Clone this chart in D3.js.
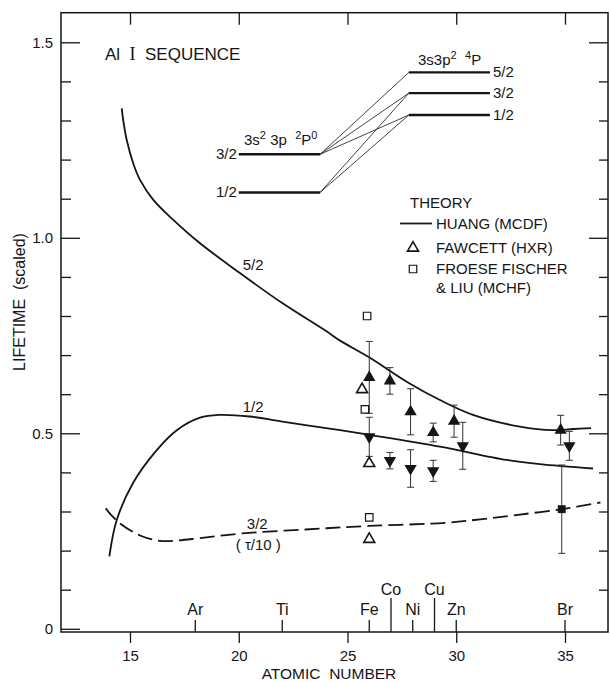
<!DOCTYPE html>
<html><head><meta charset="utf-8">
<script src="https://cdn.jsdelivr.net/npm/d3@7"></script>
<style>
body{margin:0;background:#fff}
text{font-family:"Liberation Sans",Arial,Helvetica,sans-serif;fill:#151515}
</style></head>
<body><svg id="chart" width="610" height="682"></svg>
<script>
// ---------------- data ----------------
const xTickValues = [15, 20, 25, 30, 35];
const yMajorTicks = [0, 0.5, 1.0, 1.5];
const yMinorTicks = [0.1,0.2,0.3,0.4,0.6,0.7,0.8,0.9,1.1,1.2,1.3,1.4];
const elementNames = ["Ar","Ti","Fe","Co","Ni","Cu","Zn","Br"];
const elementZ     = [18, 22, 26, 27, 28, 29, 30, 35];
const tallElements = ["Co","Cu"];

// Huang (MCDF) theory curves: [Z, lifetime]
const huang52 = [[14.62,1.331],[14.69,1.30],[14.85,1.25],[15.15,1.19],[15.46,1.148],[16.07,1.097],[16.99,1.046],[18.22,0.986],[20,0.912],[22,0.833],[24,0.762],[24.66,0.737],[26.03,0.693],[27.72,0.632],[29.25,0.585],[30.77,0.547],[32.93,0.517],[34.45,0.508],[35.37,0.511],[36.2,0.513]];
const huang12 = [[14.05,0.185],[14.39,0.278],[15.14,0.373],[16.23,0.457],[17.15,0.508],[18.22,0.540],[19.1,0.547],[20.5,0.543],[22,0.530],[24.66,0.508],[26.03,0.496],[29.25,0.466],[32.3,0.432],[33.85,0.421],[36.29,0.41]];
const huang32 = [[13.88,0.308],[14.44,0.274],[15.49,0.238],[16.4,0.225],[17.2,0.226],[18.22,0.232],[20.17,0.244],[23.07,0.254],[25.97,0.263],[29.53,0.271],[31.1,0.28],[32.75,0.291],[34.85,0.306],[36.63,0.323]];

// measurements: [Z, lifetime, error]
const meas52 = [[26,0.643,0.092],[26.95,0.634,0.034],[27.9,0.555,0.059],[28.94,0.502,0.024],[29.9,0.531,0.041],[34.8,0.508,0.038]];
const meas12 = [[26,0.491,0.050],[26.95,0.430,0.021],[27.9,0.410,0.048],[28.94,0.404,0.027],[30.3,0.468,0.06],[35.2,0.468,0.037]];
const meas32 = [[34.85,0.306,0.113]];

// other theory points: [Z, lifetime]
const fawcett = [[25.67,0.612],[26,0.423],[26,0.229]];
const froese  = [[25.9,0.80],[25.8,0.561],[26,0.285]];

// energy level inset (in axis units)
const lowerLevels = [{j:"3/2",v:1.2136},{j:"1/2",v:1.116}];
const upperLevels = [{j:"5/2",v:1.423},{j:"3/2",v:1.370},{j:"1/2",v:1.314}];
const lowerSpan = [20.0, 23.74];
const upperSpan = [27.82, 31.55];
const transitions = [["3/2","5/2"],["3/2","3/2"],["3/2","1/2"],["1/2","3/2"],["1/2","1/2"]];

// ---------------- layout ----------------
const svg = d3.select("#chart");
const L = 61, R = 608, T = 12.7, B = 632;
const x = d3.scaleLinear().domain([15, 35]).range([130, 565]);
const y = d3.scaleLinear().domain([0, 1.5]).range([628.8, 42.3]);
const ink = "#151515";

// frame
svg.append("rect").attr("x",L).attr("y",T).attr("width",R-L).attr("height",B-T)
  .attr("fill","none").attr("stroke",ink).attr("stroke-width",1.5);

function styleAxis(g){ g.select(".domain").remove(); g.selectAll("line").attr("stroke",ink).attr("stroke-width",1.3); }

// left axis
svg.append("g").attr("transform",`translate(${L},0)`)
  .call(d3.axisLeft(y).tickValues(yMinorTicks).tickSize(-10).tickFormat(""))
  .call(styleAxis);
svg.append("g").attr("transform",`translate(${L},0)`)
  .call(d3.axisLeft(y).tickValues(yMajorTicks).tickSize(-19).tickPadding(7)
    .tickFormat(d => d===0 ? "0" : d3.format(".1f")(d)))
  .call(styleAxis)
  .call(g => g.selectAll("text").attr("x",-8).attr("font-size",15).attr("fill",ink).style("font-family","'Liberation Sans',Arial,sans-serif"));
// right axis
svg.append("g").attr("transform",`translate(${R},0)`)
  .call(d3.axisRight(y).tickValues(yMinorTicks).tickSize(-9).tickFormat(""))
  .call(styleAxis);
svg.append("g").attr("transform",`translate(${R},0)`)
  .call(d3.axisRight(y).tickValues(yMajorTicks.filter(d=>d>0)).tickSize(-19).tickFormat(""))
  .call(styleAxis);
// top axis
svg.append("g").attr("transform",`translate(0,${T})`)
  .call(d3.axisTop(x).tickValues(xTickValues).tickSize(-12).tickFormat(""))
  .call(styleAxis);
// bottom axis
svg.append("g").attr("transform",`translate(0,${B})`)
  .call(d3.axisBottom(x).tickValues(xTickValues).tickSize(11).tickPadding(7))
  .call(styleAxis)
  .call(g => g.selectAll("text").attr("font-size",15).attr("fill",ink).style("font-family","'Liberation Sans',Arial,sans-serif"));

// element markers on bottom axis
const el = svg.append("g");
elementNames.forEach((n,i) => {
  const tall = tallElements.includes(n);
  const xx = x(elementZ[i]);
  el.append("line").attr("x1",xx).attr("x2",xx).attr("y1",B).attr("y2",tall? B-34 : B-12)
    .attr("stroke",ink).attr("stroke-width",1.3);
  el.append("text").attr("x",xx).attr("y",tall? B-37 : B-17).attr("text-anchor","middle")
    .attr("font-size",16).text(n);
});

// axis titles
svg.append("text").attr("x",329).attr("y",679).attr("text-anchor","middle")
  .attr("font-size",15.5).style("white-space","pre").text("ATOMIC  NUMBER");
svg.append("text").attr("transform","translate(25,302) rotate(-90)").attr("text-anchor","middle")
  .attr("font-size",16).style("white-space","pre").text("LIFETIME  (scaled)");

// title
const tt = svg.append("text").attr("x",105).attr("y",60).attr("font-size",17).style("white-space","pre");
tt.append("tspan").text("Al  ");
tt.append("tspan").style("font-family","'Liberation Serif','Times New Roman',serif").attr("font-size",18).text("I");
tt.append("tspan").text("  SEQUENCE");

// theory curves
const line = d3.line().x(d=>x(d[0])).y(d=>y(d[1])).curve(d3.curveCatmullRom.alpha(0.5));
svg.append("path").datum(huang52).attr("d",line).attr("fill","none").attr("stroke",ink).attr("stroke-width",1.8);
svg.append("path").datum(huang12).attr("d",line).attr("fill","none").attr("stroke",ink).attr("stroke-width",1.8);
svg.append("path").datum(huang32).attr("d",line).attr("fill","none").attr("stroke",ink).attr("stroke-width",1.8)
  .attr("stroke-dasharray","15,6");

// curve labels
svg.append("text").attr("x",x(20.66)).attr("y",y(0.93)+5).attr("text-anchor","middle").attr("font-size",15).text("5/2");
svg.append("text").attr("x",x(20.66)).attr("y",y(0.567)+5).attr("text-anchor","middle").attr("font-size",15).text("1/2");
svg.append("text").attr("x",x(20.85)).attr("y",y(0.269)+5).attr("text-anchor","middle").attr("font-size",15).text("3/2");
svg.append("text").attr("x",x(20.9)).attr("y",y(0.214)+5).attr("text-anchor","middle").attr("font-size",15).style("white-space","pre").text("( τ/10 )");

// error bars
function errorBars(data){
  const g = svg.append("g").attr("stroke","#333").attr("stroke-width",1);
  data.forEach(d=>{
    const xx=x(d[0]);
    g.append("line").attr("x1",xx).attr("x2",xx).attr("y1",y(d[1]-d[2])).attr("y2",y(d[1]+d[2]));
    [d[1]-d[2], d[1]+d[2]].forEach(v=>g.append("line").attr("x1",xx-3.5).attr("x2",xx+3.5).attr("y1",y(v)).attr("y2",y(v)));
  });
}
errorBars(meas52); errorBars(meas12); errorBars(meas32);

const tri = d3.symbol().type(d3.symbolTriangle).size(66);
const sq  = d3.symbol().type(d3.symbolSquare).size(62);
svg.append("g").selectAll("path").data(meas52).join("path")
  .attr("d",tri).attr("transform",d=>`translate(${x(d[0])},${y(d[1])})`).attr("fill",ink);
svg.append("g").selectAll("path").data(meas12).join("path")
  .attr("d",tri).attr("transform",d=>`translate(${x(d[0])},${y(d[1])}) rotate(180)`).attr("fill",ink);
svg.append("g").selectAll("path").data(meas32).join("path")
  .attr("d",sq).attr("transform",d=>`translate(${x(d[0])},${y(d[1])})`).attr("fill",ink);

const otri = d3.symbol().type(d3.symbolTriangle).size(52);
const osq  = d3.symbol().type(d3.symbolSquare).size(56);
svg.append("g").selectAll("path").data(fawcett).join("path")
  .attr("d",otri).attr("transform",d=>`translate(${x(d[0])},${y(d[1])})`)
  .attr("fill","#fff").attr("stroke",ink).attr("stroke-width",1.6);
svg.append("g").selectAll("path").data(froese).join("path")
  .attr("d",osq).attr("transform",d=>`translate(${x(d[0])},${y(d[1])})`)
  .attr("fill","#fff").attr("stroke",ink).attr("stroke-width",1.2);

// legend
const lg = svg.append("g");
lg.append("text").attr("x",410).attr("y",208).attr("font-size",15).text("THEORY");
lg.append("line").attr("x1",400).attr("x2",432).attr("y1",223.5).attr("y2",223.5).attr("stroke",ink).attr("stroke-width",1.8);
lg.append("text").attr("x",436).attr("y",229).attr("font-size",15).style("white-space","pre").text("HUANG (MCDF)");
lg.append("path").attr("d",otri).attr("transform","translate(413,248)").attr("fill","#fff").attr("stroke",ink).attr("stroke-width",1.6);
lg.append("text").attr("x",436).attr("y",253.3).attr("font-size",15).style("white-space","pre").text("FAWCETT (HXR)");
lg.append("path").attr("d",osq).attr("transform","translate(413,269)").attr("fill","#fff").attr("stroke",ink).attr("stroke-width",1.2);
lg.append("text").attr("x",436).attr("y",274).attr("font-size",15).style("white-space","pre").text("FROESE FISCHER");
lg.append("text").attr("x",436).attr("y",293.3).attr("font-size",15).style("white-space","pre").text("& LIU (MCHF)");

// energy level inset
const lv = svg.append("g");
lowerLevels.forEach(d=>{
  lv.append("line").attr("x1",x(lowerSpan[0])).attr("x2",x(lowerSpan[1])).attr("y1",y(d.v)).attr("y2",y(d.v))
    .attr("stroke",ink).attr("stroke-width",2.4);
  lv.append("text").attr("x",x(lowerSpan[0])-2).attr("y",y(d.v)+5).attr("text-anchor","end").attr("font-size",15).text(d.j);
});
upperLevels.forEach(d=>{
  lv.append("line").attr("x1",x(upperSpan[0])).attr("x2",x(upperSpan[1])).attr("y1",y(d.v)).attr("y2",y(d.v))
    .attr("stroke",ink).attr("stroke-width",2.4);
  lv.append("text").attr("x",x(upperSpan[1])+3).attr("y",y(d.v)+5).attr("font-size",15).text(d.j);
});
transitions.forEach(([a,b])=>{
  const lo = lowerLevels.find(d=>d.j===a), up = upperLevels.find(d=>d.j===b);
  lv.append("line").attr("x1",x(lowerSpan[1])).attr("y1",y(lo.v)).attr("x2",x(upperSpan[0])).attr("y2",y(up.v))
    .attr("stroke",ink).attr("stroke-width",0.8);
});
const t1 = lv.append("text").attr("x",244).attr("y",144.5).attr("font-size",15).style("white-space","pre");
t1.append("tspan").text("3s");
t1.append("tspan").attr("dy",-6).attr("font-size",11).text("2");
t1.append("tspan").attr("dy",6).text(" 3p  ");
t1.append("tspan").attr("dy",-6).attr("font-size",11).text("2");
t1.append("tspan").attr("dy",6).text("P");
t1.append("tspan").attr("dy",-6).attr("font-size",11).text("0");
const t2 = lv.append("text").attr("x",418).attr("y",65).attr("font-size",15).style("white-space","pre");
t2.append("tspan").text("3s3p");
t2.append("tspan").attr("dy",-6).attr("font-size",11).text("2");
t2.append("tspan").attr("dy",6).text("  ");
t2.append("tspan").attr("dy",-6).attr("font-size",11).text("4");
t2.append("tspan").attr("dy",6).text("P");
</script></body></html>
